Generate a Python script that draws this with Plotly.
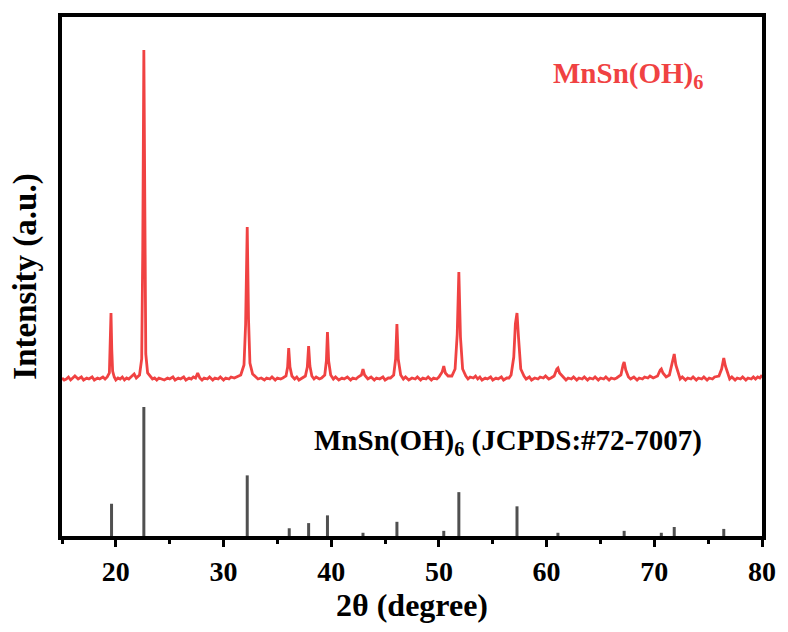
import plotly.graph_objects as go

# Experimental XRD pattern (2theta, intensity in a.u. above its own baseline)
exp_two_theta = [
    15.0, 15.2, 15.4, 15.6, 15.8, 16.0, 16.2, 16.5, 16.8, 17.0, 17.3, 17.5, 17.8,
    18.0, 18.3, 18.5, 18.8, 19.0, 19.2,
    19.40, 19.47, 19.55, 19.62, 19.70, 19.85,
    20.0, 20.2, 20.4, 20.6, 20.8, 21.0, 21.2, 21.4, 21.7, 21.9, 22.05, 22.2,
    22.4, 22.5, 22.6, 22.68, 22.78, 22.95,
    23.2, 23.4, 23.6, 23.8, 24.0, 24.3, 24.5, 24.8, 25.0, 25.3, 25.5, 25.8,
    26.0, 26.3, 26.5, 26.8, 27.0, 27.2, 27.4, 27.6, 27.8,
    28.0, 28.2, 28.5, 28.7, 29.0, 29.2, 29.5, 29.7, 30.0, 30.2, 30.5, 30.7,
    31.0, 31.2, 31.4, 31.6,
    31.9, 32.05, 32.2, 32.32, 32.45, 32.7,
    33.0, 33.2, 33.5, 33.8, 34.0, 34.3, 34.5, 34.8, 35.0, 35.3, 35.5,
    35.8, 35.95, 36.05, 36.17, 36.35,
    36.6, 36.8, 37.0, 37.3,
    37.6, 37.78, 37.9, 38.02, 38.2,
    38.4, 38.6, 38.9, 39.1,
    39.4, 39.55, 39.65, 39.76, 39.95,
    40.2, 40.4, 40.7, 41.0, 41.2, 41.5, 41.8, 42.0, 42.3, 42.5,
    42.8, 42.95, 43.1,
    43.4, 43.7, 44.0, 44.2, 44.5, 44.8, 45.0, 45.3, 45.5,
    45.8, 45.98, 46.1, 46.22, 46.45,
    46.7, 46.9, 47.2, 47.5, 47.8, 48.0, 48.3, 48.5, 48.8, 49.0, 49.3, 49.5, 49.8, 50.0,
    50.3, 50.45, 50.6, 50.85,
    51.2, 51.5, 51.7, 51.85, 52.0, 52.2, 52.5,
    52.7, 52.9, 53.2, 53.4, 53.6, 53.8, 54.0, 54.3, 54.5, 54.8, 55.0, 55.3, 55.5,
    55.8, 56.0, 56.3, 56.5,
    56.7, 56.95, 57.1, 57.25, 57.4, 57.6, 57.9,
    58.1, 58.4, 58.6, 58.9, 59.2, 59.4, 59.7, 59.9, 60.2, 60.4,
    60.7, 60.95, 61.05, 61.2, 61.5,
    61.8, 62.0, 62.3, 62.5, 62.8, 63.0, 63.3, 63.5, 63.8, 64.0, 64.3, 64.5, 64.8,
    65.0, 65.3, 65.5, 65.8, 66.0, 66.3, 66.5,
    66.9, 67.1, 67.2, 67.35, 67.6,
    67.8, 68.1, 68.4, 68.6, 68.9, 69.1, 69.4, 69.6, 69.9,
    70.1, 70.3, 70.55, 70.65, 70.8, 71.1,
    71.4, 71.65, 71.85, 72.0, 72.25,
    72.4, 72.6, 72.9, 73.1, 73.4, 73.6, 73.9, 74.1, 74.4, 74.6, 74.9, 75.1, 75.4, 75.6,
    76.0, 76.25, 76.45, 76.6, 76.85,
    77.0, 77.2, 77.5, 77.7, 78.0, 78.2, 78.5, 78.7, 79.0, 79.2, 79.4, 79.6, 79.8, 80.0,
]
exp_intensity = [
    1, -1, 0, 2, -1, 1, 3, 0, 2, -1, 1, 0, 2,
    -1, 1, 0, 2, 0, 2,
    6, 28, 66, 30, 8, 2,
    -1, 1, 0, 2, -1, 1, 0, 2, 5, 1, 3, 4,
    20, 130, 329, 140, 25, 6,
    2, 0, 1, -1, 1, 0, -1, 1, 0, 2, -1, 1,
    0, 2, -1, 1, 0, 2, 1, 6, 1,
    -1, 1, 0, 2, -1, 1, 0, 2, -1, 1, 0, 2,
    1, 2, 3, 4,
    14, 55, 152, 60, 16, 5,
    2, 0, 1, -1, 1, 0, 2, -1, 1, 0, 1,
    3, 12, 31, 12, 3,
    0, 2, -1, 1,
    3, 12, 33, 13, 3,
    0, 2, 0, 1,
    4, 18, 47, 18, 4,
    0, 2, -1, 1, 0, 2, -1, 1, 0, 2,
    4, 10, 4,
    0, 2, -1, 1, 0, 2, -1, 1, 1,
    4, 20, 55, 20, 4,
    0, 2, -1, 1, 0, 2, -1, 1, 0, 2, -1, 1, 0, 2,
    7, 13, 6, 3,
    3, 10, 45, 107, 42, 10, 3,
    0, 2, 1, 3, 0, 2, -1, 1, 0, 2, -1, 1, 0,
    2, -1, 1, 1,
    4, 22, 55, 66, 40, 10, 3,
    0, 2, -1, 1, 0, 2, 1, 3, 0, 1,
    3, 10, 11, 6, 2,
    -1, 1, 0, 2, -1, 1, 0, 2, -1, 1, 0, 2, -1,
    1, 0, 2, -1, 1, 0, 1,
    4, 14, 17, 9, 2,
    0, 2, -1, 1, 0, 2, 1, 3, 1,
    2, 3, 9, 10, 6, 2,
    4, 15, 25, 14, 4,
    0, 2, -1, 1, 0, 2, -1, 1, 0, 2, -1, 1, 0, 2,
    3, 10, 21, 13, 4,
    0, 2, -1, 1, 0, 2, -1, 1, 0, 2, 0, 2, 1, 4,
]

# Standard card JCPDS #72-7007 (relative intensity, %)
ref_two_theta = [19.6, 22.6, 32.2, 36.1, 37.9, 39.65, 42.95, 46.1, 50.45,
                 51.85, 57.25, 61.05, 67.2, 70.65, 71.85, 76.45]
ref_intensity = [25, 100, 47, 6, 10, 16, 2.5, 11, 4,
                 34, 23, 2.5, 4, 2.5, 7, 5.5]

sample_label = "MnSn(OH)<sub>6</sub>"
card_label = "MnSn(OH)<sub>6</sub> (JCPDS:#72-7007)"
x_title = "2θ (degree)"
y_title = "Intensity (a.u.)"
x_ticks = [20, 30, 40, 50, 60, 70, 80]

RED = "rgb(240,66,66)"
GREY = "rgb(80,80,80)"
FONT = "Liberation Serif"

exp_offset = 157
ref_scale = 1.29

fig = go.Figure()

fig.add_trace(go.Scatter(
    x=exp_two_theta,
    y=[v + exp_offset for v in exp_intensity],
    mode="lines",
    line=dict(color=RED, width=2.8),
    showlegend=False,
))

stick_x, stick_y = [], []
for t, v in zip(ref_two_theta, ref_intensity):
    stick_x += [t, t, None]
    stick_y += [0, v * ref_scale, None]
fig.add_trace(go.Scatter(
    x=stick_x, y=stick_y, mode="lines",
    line=dict(color=GREY, width=3),
    showlegend=False,
))

fig.update_layout(
    width=788, height=632,
    margin=dict(l=62, r=23, t=17, b=96),
    paper_bgcolor="white", plot_bgcolor="white",
    font=dict(family=FONT, color="black"),
    xaxis=dict(
        range=[15, 80],
        tickvals=x_ticks,
        ticks="outside", ticklen=7, tickwidth=3, tickcolor="black",
        minor=dict(dtick=5, tick0=15, ticks="outside", ticklen=4, tickwidth=3, tickcolor="black"),
        showline=True, linewidth=4, linecolor="black", mirror=True,
        showgrid=False, zeroline=False,
        tickfont=dict(family=FONT, size=28, weight="bold", color="black"),
        title=dict(text=x_title, font=dict(family=FONT, size=32, weight="bold"), standoff=8),
    ),
    yaxis=dict(
        range=[0, 519],
        showticklabels=False, ticks="",
        showline=True, linewidth=4, linecolor="black", mirror=True,
        showgrid=False, zeroline=False,
        title=dict(text=y_title, font=dict(family=FONT, size=33, weight="bold"), standoff=12),
    ),
    annotations=[
        dict(text=sample_label, x=0.698, y=0.888, xref="paper", yref="paper",
             xanchor="left", yanchor="middle", showarrow=False,
             font=dict(family=FONT, size=29, weight="bold", color=RED)),
        dict(text=card_label, x=0.357, y=0.181, xref="paper", yref="paper",
             xanchor="left", yanchor="middle", showarrow=False,
             font=dict(family=FONT, size=29, weight="bold", color="black")),
    ],
)

fig.write_html("out.html")
